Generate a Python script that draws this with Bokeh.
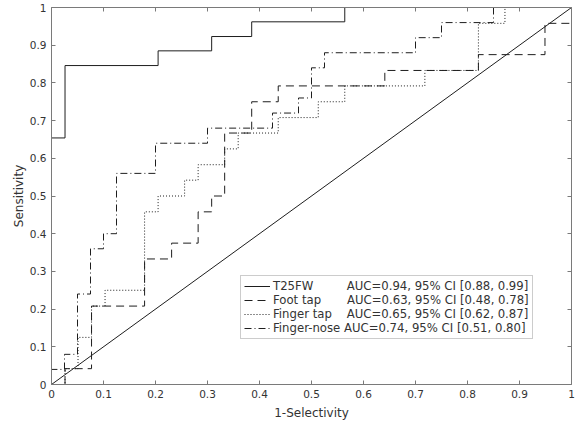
from bokeh.plotting import figure
from bokeh.models import LinearAxis, FixedTicker, Legend, LegendItem, Range1d
from bokeh.embed import file_html
from bokeh.resources import INLINE

# ---- data ----
tick_values = [0, 0.1, 0.2, 0.3, 0.4, 0.5, 0.6, 0.7, 0.8, 0.9, 1]
tick_labels = ["0", "0.1", "0.2", "0.3", "0.4", "0.5", "0.6", "0.7", "0.8", "0.9", "1"]

# ROC jumps: false-positive rate at which the sensitivity rises, and the sensitivity after it
t25fw_fpr = [0.0, 0.026, 0.205, 0.308, 0.385, 0.564]
t25fw_tpr = [0.654, 0.846, 0.885, 0.923, 0.962, 1.0]

foot_fpr = [0.026, 0.077, 0.179, 0.231, 0.282, 0.308, 0.333, 0.385, 0.436, 0.641, 0.821, 0.949, 1.0]
foot_tpr = [0.042, 0.208, 0.333, 0.375, 0.458, 0.5, 0.667, 0.75, 0.792, 0.833, 0.875, 0.958, 1.0]

finger_fpr = [0.026, 0.051, 0.077, 0.103, 0.179, 0.205, 0.256, 0.282, 0.333, 0.359, 0.436, 0.513, 0.564, 0.718, 0.821, 0.872]
finger_tpr = [0.042, 0.125, 0.208, 0.25, 0.458, 0.5, 0.542, 0.583, 0.625, 0.667, 0.708, 0.75, 0.792, 0.833, 0.958, 1.0]

nose_fpr = [0.0, 0.025, 0.05, 0.075, 0.1, 0.125, 0.2, 0.3, 0.425, 0.475, 0.5, 0.525, 0.7, 0.75, 0.85]
nose_tpr = [0.04, 0.08, 0.24, 0.36, 0.4, 0.56, 0.64, 0.68, 0.72, 0.76, 0.84, 0.88, 0.92, 0.96, 1.0]

chance_x = [0, 1]
chance_y = [0, 1]

legend_labels = [
    "T25FW         AUC=0.94, 95% CI [0.88, 0.99]",
    "Foot tap       AUC=0.63, 95% CI [0.48, 0.78]",
    "Finger tap    AUC=0.65, 95% CI [0.62, 0.87]",
    "Finger-nose AUC=0.74, 95% CI [0.51, 0.80]",
]

FONT = "DejaVu Sans"
TXT = "#333333"
AX = "#7a7a7a"
LINE = "#1e1e1e"


def staircase(fpr, tpr):
    xs, ys = [0.0], [0.0]
    for f, t in zip(fpr, tpr):
        xs += [f, f]
        ys += [ys[-1], t]
    xs.append(1.0)
    ys.append(ys[-1])
    return xs, ys


p = figure(width=584, height=422, x_range=Range1d(0, 1), y_range=Range1d(0, 1),
           output_backend="svg", toolbar_location=None,
           min_border_left=51, min_border_right=13, min_border_top=7, min_border_bottom=38,
           x_axis_label="1-Selectivity", y_axis_label="Sensitivity")
p.grid.visible = False
p.outline_line_color = None
p.background_fill_color = "white"
p.border_fill_color = "white"

p.add_layout(LinearAxis(), "above")
p.add_layout(LinearAxis(), "right")

overrides = {v: s for v, s in zip(tick_values, tick_labels)}
for ax in list(p.xaxis) + list(p.yaxis):
    ax.ticker = FixedTicker(ticks=tick_values)
    ax.major_label_overrides = overrides
    ax.major_tick_in = 4
    ax.major_tick_out = 0
    ax.minor_tick_line_color = None
    ax.axis_line_color = AX
    ax.major_tick_line_color = AX
    ax.major_label_text_font = FONT
    ax.major_label_text_font_size = "10.5px"
    ax.major_label_text_color = TXT
    ax.axis_label_text_font = FONT
    ax.axis_label_text_font_size = "12px"
    ax.axis_label_text_font_style = "normal"
    ax.axis_label_text_color = TXT

p.xaxis[0].major_label_standoff = 3
p.xaxis[0].axis_label_standoff = 0
p.yaxis[0].major_label_standoff = 5
p.yaxis[0].axis_label_standoff = 1
for ax in (p.above[0], p.right[0]):
    ax.major_label_overrides = {v: "" for v in tick_values}
    ax.major_label_text_font_size = "1px"
    ax.major_label_standoff = 0
    ax.axis_label = None

x, y = staircase(t25fw_fpr, t25fw_tpr)
r1 = p.line(x, y, line_color=LINE, line_width=1)
x, y = staircase(foot_fpr, foot_tpr)
r2 = p.line(x, y, line_color=LINE, line_width=1, line_dash="8 5")
x, y = staircase(finger_fpr, finger_tpr)
r3 = p.line(x, y, line_color=LINE, line_width=1, line_dash="1 2")
x, y = staircase(nose_fpr, nose_tpr)
r4 = p.line(x, y, line_color=LINE, line_width=1, line_dash="7 3 1 3")
p.line(chance_x, chance_y, line_color=LINE, line_width=1)

legend = Legend(items=[LegendItem(label=lab, renderers=[r]) for lab, r in zip(legend_labels, [r1, r2, r3, r4])],
                location=(189, 45))
legend.label_text_font = FONT
legend.label_text_font_size = "11.7px"
legend.label_text_color = TXT
legend.glyph_width = 26
legend.glyph_height = 14
legend.label_height = 14
legend.label_standoff = 3
legend.spacing = 0
legend.padding = 3
legend.margin = 0
legend.border_line_color = "#9a9a9a"
legend.border_line_width = 1
legend.background_fill_color = "white"
legend.background_fill_alpha = 1
p.add_layout(legend)

open("out.html", "w").write(file_html(p, INLINE))
